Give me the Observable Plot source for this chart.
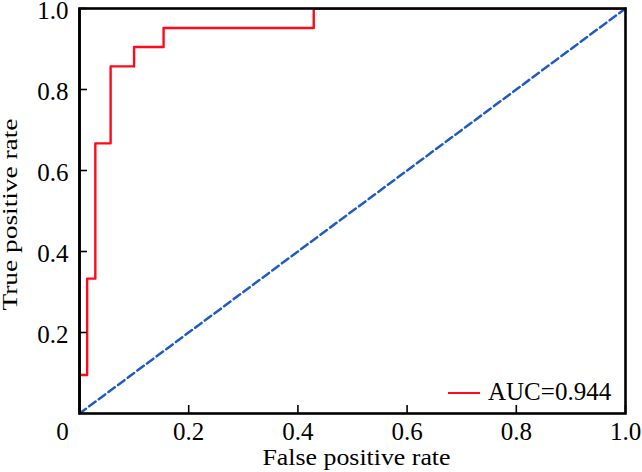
<!DOCTYPE html>
<html><head><meta charset="utf-8">
<script src="https://cdn.jsdelivr.net/npm/d3@7"></script>
<script src="https://cdn.jsdelivr.net/npm/@observablehq/plot@0.6"></script>
<style>
body{margin:0;background:#fff;}
#wrap{position:relative;width:642px;height:472px;font-family:"Liberation Serif","Times New Roman",serif;}
#legend{position:absolute;left:448px;top:378px;display:flex;align-items:center;font-size:25px;line-height:28px;color:#000;}
#legend .sw{width:32px;height:0;border-top:2.5px solid #ff0a1a;margin-right:8px;margin-top:2px;}
</style></head>
<body><div id="wrap"><div id="legend"><span class="sw"></span><span id="lt"></span></div></div>
<script>
const fpr = [0, 0, 0.014, 0.014, 0.029, 0.029, 0.057, 0.057, 0.1, 0.1, 0.154, 0.154, 0.429, 0.429, 1];
const tpr = [0, 0.095, 0.095, 0.333, 0.333, 0.667, 0.667, 0.857, 0.857, 0.905, 0.905, 0.952, 0.952, 1, 1];
const chanceX = [0, 1];
const chanceY = [0, 1];
const xTicks = [0.2, 0.4, 0.6, 0.8, 1.0];
const xZeroTick = [0];
const yTicks = [0.2, 0.4, 0.6, 0.8, 1.0];
const aucLabel = "AUC=0.944";
const xLabel = "False positive rate";
const yLabel = "True positive rate";

const W = 642, H = 472, mL = 79, mR = 17, mT = 8, mB = 59;
const innerW = W - mL - mR, innerH = H - mT - mB;
const roc = fpr.map((x, i) => ({x, y: tpr[i]}));
const chance = chanceX.map((x, i) => ({x, y: chanceY[i]}));
const fmt = d => d === 0 ? "0" : d3.format(".1f")(d);

const chart = Plot.plot({
  width: W, height: H,
  marginLeft: mL, marginRight: mR, marginTop: mT, marginBottom: mB,
  style: {fontFamily: '"Liberation Serif","Times New Roman",serif', fontSize: "25px", color: "#000", background: "#fff"},
  x: {domain: [0, 1]},
  y: {domain: [0, 1]},
  marks: [
    Plot.line(chance, {x: "x", y: "y", stroke: "#1f5bc4", strokeWidth: 2.5, strokeDasharray: "8,4"}),
    Plot.line(roc, {x: "x", y: "y", stroke: "#ff0a1a", strokeWidth: 2.4, clip: true}),
    Plot.ruleX(xZeroTick, {x: d => d, stroke: "#000", strokeWidth: 2.6}),
    Plot.tickX(xTicks, {x: d => d, stroke: "#000", strokeWidth: 1.6, insetTop: innerH - 8}),
    Plot.tickY(yTicks, {y: d => d, stroke: "#000", strokeWidth: 1.6, insetRight: innerW - 8}),
    Plot.axisX(xTicks, {tickSize: 0, tickPadding: 9, tickFormat: fmt, fontSize: 25, label: null}),
    Plot.axisX(xZeroTick, {tickSize: 0, tickPadding: 9, tickFormat: fmt, fontSize: 25, dx: -17, label: null}),
    Plot.axisY(yTicks, {tickSize: 0, tickPadding: 11, tickFormat: fmt, fontSize: 25, dy: 2.5, label: null}),
    Plot.text([xLabel], {frameAnchor: "bottom", dy: 44.3, dx: 4, text: d => d, fontSize: 24, textAnchor: "middle", lineAnchor: "middle"}),
    Plot.text([yLabel], {frameAnchor: "left", dx: -70, dy: 3.5, rotate: -90, text: d => d, fontSize: 22, textAnchor: "middle", lineAnchor: "middle"}),
    Plot.frame({stroke: "#000", strokeWidth: 2.6})
  ]
});
document.getElementById("wrap").prepend(chart);
document.getElementById("lt").textContent = aucLabel;
// stretch the axis titles to the wide serif face of the reference
const stretch = {[xLabel]: 188, [yLabel]: 192};
chart.querySelectorAll("text").forEach(t => {
  const s = stretch[t.textContent];
  if (s) { t.setAttribute("textLength", s); t.setAttribute("lengthAdjust", "spacingAndGlyphs"); }
});
</script></body></html>
